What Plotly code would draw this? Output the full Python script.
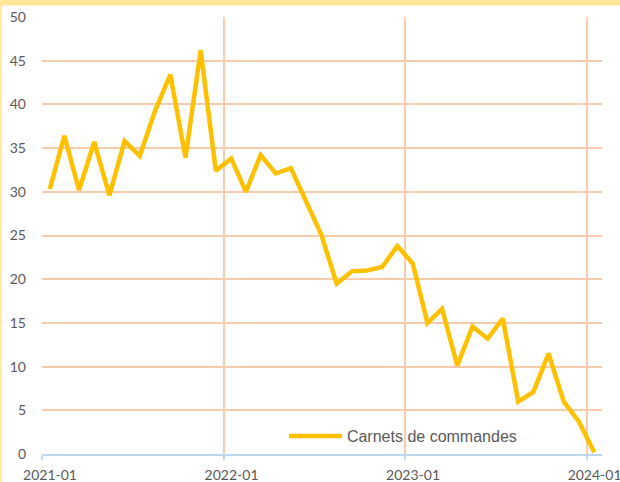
import plotly.graph_objects as go

# Monthly order-book balance, Jan 2021 to Jan 2024
months = [f"{y}-{m:02d}-01" for y in (2021, 2022, 2023) for m in range(1, 13)] + ["2024-01-01"]
carnets = [30.3, 36.4, 30.2, 35.7, 29.6, 35.8, 34.1, 39.3, 43.4, 33.9, 46.2, 32.4,
           33.8, 30.0, 34.2, 32.1, 32.7, 28.9, 25.1, 19.5, 20.9, 21.0, 21.4, 23.8,
           21.8, 15.0, 16.6, 10.1, 14.6, 13.2, 15.5, 6.0, 7.1, 11.5, 6.0, 3.7, 0.2]

year_ticks = ["2021-01-01", "2022-01-01", "2023-01-01", "2024-01-01"]
year_labels = ["2021-01", "2022-01", "2023-01", "2024-01"]

GRID = "#F8CBAD"
AXIS = "#BDD7EE"
TEXT = "#595959"
GOLD = "#FFC000"

fig = go.Figure()
fig.add_trace(go.Scatter(
    x=months, y=carnets, mode="lines", name="Carnets de commandes",
    xperiod="M1", xperiodalignment="middle",
    line=dict(color=GOLD, width=4.5, shape="linear"),
))

fig.update_layout(
    width=620, height=482,
    margin=dict(l=42, r=18, t=17, b=28),
    paper_bgcolor="white", plot_bgcolor="white",
    showlegend=True,
    legend=dict(orientation="h", x=0.432, y=0.041, xanchor="left", yanchor="middle",
                bgcolor="rgba(0,0,0,0)", itemwidth=53,
                font=dict(family="Liberation Sans, Arial", size=16, color=TEXT)),
    xaxis=dict(type="date", range=["2021-01-01", "2024-02-01"],
               tickmode="array", tickvals=year_ticks, ticktext=year_labels,
               ticklabelshift=8, ticklabelstandoff=3, ticklabeloverflow="allow",
               showgrid=True, gridcolor=GRID, gridwidth=1.5,
               showline=True, linecolor=AXIS, linewidth=1.5,
               ticks="outside", ticklen=4, tickcolor=AXIS, tickwidth=1.5,
               zeroline=False, automargin=False,
               tickfont=dict(family="Lato", size=14, color=TEXT)),
    yaxis=dict(range=[0, 50], tickmode="linear", tick0=0, dtick=5,
               showgrid=True, gridcolor=GRID, gridwidth=1.5,
               showline=False, zeroline=False, ticks="", automargin=False,
               ticklabelstandoff=15,
               tickfont=dict(family="Lato", size=14, color=TEXT)),
    shapes=[
        dict(type="rect", xref="paper", yref="paper", x0=-0.2, x1=1.2,
             y0=1.0263, y1=1.06, fillcolor="#FFE699", line=dict(width=0), layer="above"),
        dict(type="line", xref="paper", yref="paper", x0=-0.0741, x1=-0.0741,
             y0=-0.1, y1=1.1, line=dict(color="#FFE699", width=2), layer="above"),
    ],
)

fig.write_html("out.html")
